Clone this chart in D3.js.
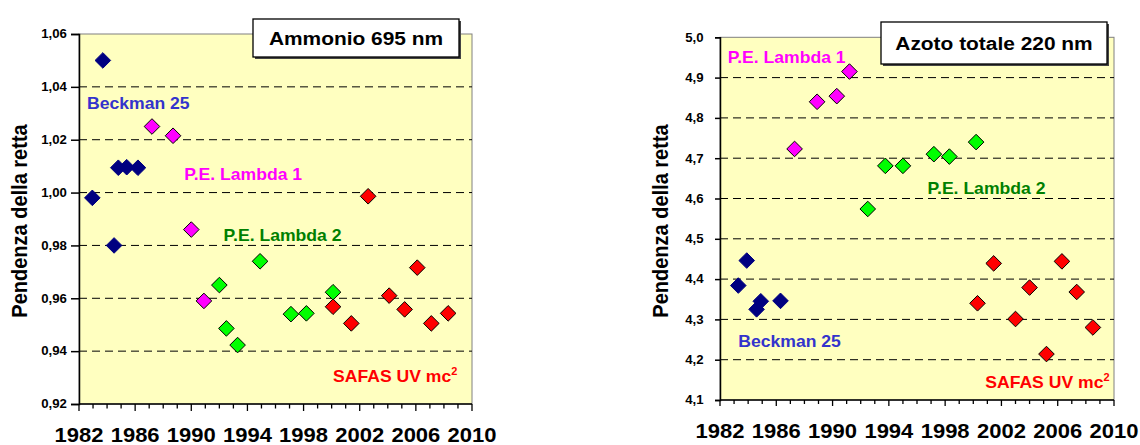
<!DOCTYPE html>
<html>
<head>
<meta charset="utf-8">
<script src="https://cdn.jsdelivr.net/npm/d3@7"></script>
<style>
  body { margin: 0; background: #fff; }
  svg text { font-family: "Liberation Sans", Arial, sans-serif; font-weight: bold; }
</style>
</head>
<body>
<svg id="chart" width="1140" height="445"></svg>
<script>
// x axis labels
var yearTicks = [1982, 1986, 1990, 1994, 1998, 2002, 2006, 2010];

// Ammonio 695 nm
var ammBeckmanYears = [1982.95, 1983.7, 1984.5, 1984.8, 1985.4, 1986.2];
var ammBeckmanVals  = [0.998, 1.050, 0.980, 1.0094, 1.0096, 1.0094];
var ammLambda1Years = [1987.2, 1988.7, 1990.0, 1990.9];
var ammLambda1Vals  = [1.025, 1.0215, 0.986, 0.959];
var ammLambda2Years = [1992.0, 1992.5, 1993.3, 1994.9, 1997.1, 1998.2, 2000.1];
var ammLambda2Vals  = [0.965, 0.9486, 0.9423, 0.974, 0.954, 0.9543, 0.9623];
var ammSafasYears   = [2000.1, 2001.4, 2002.6, 2004.1, 2005.2, 2006.1, 2007.1, 2008.3];
var ammSafasVals    = [0.9568, 0.9505, 0.9986, 0.961, 0.9558, 0.9716, 0.9505, 0.9543];
var ammTicks = [0.92, 0.94, 0.96, 0.98, 1.00, 1.02, 1.04, 1.06];

// Azoto totale 220 nm
var azoBeckmanYears = [1983.3, 1983.9, 1984.6, 1984.9, 1986.3];
var azoBeckmanVals  = [4.384, 4.446, 4.325, 4.345, 4.346];
var azoLambda1Years = [1987.3, 1988.9, 1990.3, 1991.2];
var azoLambda1Vals  = [4.723, 4.840, 4.854, 4.915];
var azoLambda2Years = [1992.5, 1993.75, 1995.0, 1997.2, 1998.3, 2000.2];
var azoLambda2Vals  = [4.574, 4.681, 4.681, 4.710, 4.704, 4.740];
var azoSafasYears   = [2000.3, 2001.45, 2003.0, 2004.0, 2005.2, 2006.3, 2007.35, 2008.5];
var azoSafasVals    = [4.340, 4.439, 4.301, 4.379, 4.214, 4.444, 4.368, 4.280];
var azoTicks = [4.1, 4.2, 4.3, 4.4, 4.5, 4.6, 4.7, 4.8, 4.9, 5.0];

var svg = d3.select("#chart");
var diamond = "M0,-7.8L7.8,0L0,7.8L-7.8,0Z";
var SX = 1.1; // the picture is a bit wider than tall

function zip(xs, ys) { return xs.map(function(x, i) { return [x, ys[i]]; }); }

function label(g, x, y, txt, color, size, sup) {
    var t = g.append("text")
        .attr("transform", "translate(" + x + "," + y + ") scale(" + SX + ",1)")
        .attr("fill", color).style("font-size", size + "px").text(txt);
    if (sup) {
        t.append("tspan").attr("dy", -7).style("font-size", "10px").text(sup);
    }
    return t;
}

function drawChart(c) {
    var x = d3.scaleLinear().domain([1982, 2010]).range([c.left, c.right]);
    var y = d3.scaleLinear().domain(c.yDomain).range([c.bottom, c.top]);
    var g = svg.append("g");

    g.append("rect").attr("x", c.left).attr("y", c.top)
        .attr("width", c.right - c.left).attr("height", c.bottom - c.top)
        .attr("fill", "#FFFFC0").attr("stroke", "#808080").attr("stroke-width", 1);

    // dashed gridlines
    g.selectAll(".grid").data(c.yTicks.slice(1, -1)).enter().append("line")
        .attr("x1", c.left).attr("x2", c.right)
        .attr("y1", function(d) { return y(d); }).attr("y2", function(d) { return y(d); })
        .attr("stroke", "#000").attr("stroke-dasharray", "8,5");

    // y axis
    var ya = g.append("g").attr("transform", "translate(" + c.left + ",0)")
        .call(d3.axisLeft(y).tickValues(c.yTicks).tickSize(c.yTickSize).tickPadding(c.yPad)
            .tickFormat(function(d) { return d3.format(c.yFmt)(d).replace(".", ","); }));
    ya.select(".domain").attr("stroke", "#000").attr("stroke-width", 1.5);
    ya.selectAll("line").attr("stroke-width", 1.5);
    ya.selectAll("text").style("font-size", "12px").attr("fill", "#000")
        .attr("transform", "scale(" + SX + ",1)");

    // x axis: yearly ticks, longer every 4 years
    var xa = g.append("g").attr("transform", "translate(0," + c.bottom + ")");
    xa.append("line").attr("x1", c.left).attr("x2", c.right).attr("stroke", "#000").attr("stroke-width", 1.5);
    xa.selectAll(".tk").data(d3.range(1982, 2011)).enter().append("line")
        .attr("x1", function(d) { return x(d); }).attr("x2", function(d) { return x(d); })
        .attr("y1", 0).attr("y2", function(d) { return (d - 1982) % 4 === 0 ? c.xMajor : c.xMinor; })
        .attr("stroke", "#000").attr("stroke-width", 1.3);
    xa.selectAll(".xl").data(yearTicks).enter().append("text")
        .attr("transform", function(d) { return "translate(" + x(d) + "," + c.xLabelDy + ") scale(" + SX + ",1)"; })
        .attr("text-anchor", "middle").style("font-size", "20px").text(function(d) { return d; });

    // axis title
    g.append("text")
        .attr("transform", "translate(" + c.titleX + "," + c.titleY + ") rotate(-90) scale(1," + SX + ")")
        .attr("text-anchor", "middle").style("font-size", "20px").text("Pendenza della retta");

    // series
    c.series.forEach(function(s) {
        g.selectAll(null).data(s.pts).enter().append("path")
            .attr("d", diamond)
            .attr("transform", function(d) { return "translate(" + x(d[0]) + "," + y(d[1]) + ")"; })
            .attr("fill", s.fill).attr("stroke", s.stroke).attr("stroke-width", 1);
    });

    // series labels
    c.labels.forEach(function(l) {
        label(g, x(l.at[0]), y(l.at[1]), l.text, l.color, 16, l.sup);
    });

    // title box
    var b = c.box;
    g.append("rect").attr("x", b.x + 2).attr("y", b.y + 2).attr("width", b.w).attr("height", b.h).attr("fill", "#444");
    g.append("rect").attr("x", b.x).attr("y", b.y).attr("width", b.w).attr("height", b.h)
        .attr("fill", "#fff").attr("stroke", "#000").attr("stroke-width", 1.3);
    g.append("text")
        .attr("transform", "translate(" + (b.x + b.w / 2) + "," + (b.y + b.h / 2 + 7) + ") scale(" + SX + ",1)")
        .attr("text-anchor", "middle").style("font-size", "19px").text(b.text);
}

var navy = "#000080", magenta = "#FF00FF", lime = "#00FF00", red = "#FF0000";

drawChart({
    left: 79, right: 472, top: 34, bottom: 404,
    yDomain: [0.92, 1.06], yTicks: ammTicks, yFmt: ".2f", yTickSize: 8, yPad: 3,
    xMajor: 7, xMinor: 4.5, xLabelDy: 38,
    titleX: 27, titleY: 221,
    series: [
        { pts: zip(ammBeckmanYears, ammBeckmanVals), fill: navy, stroke: navy },
        { pts: zip(ammLambda1Years, ammLambda1Vals), fill: magenta, stroke: "#000" },
        { pts: zip(ammLambda2Years, ammLambda2Vals), fill: lime, stroke: "#000" },
        { pts: zip(ammSafasYears, ammSafasVals), fill: red, stroke: "#000" }
    ],
    labels: [
        { text: "Beckman 25", color: "#3333CC", at: [1982.57, 1.0318] },
        { text: "P.E. Lambda 1", color: magenta, at: [1989.5, 1.0049] },
        { text: "P.E. Lambda 2", color: "#008000", at: [1992.3, 0.9815] },
        { text: "SAFAS UV mc", sup: "2", color: red, at: [2000.1, 0.9285] }
    ],
    box: { x: 253, y: 19, w: 206, h: 38, text: "Ammonio 695 nm" }
});

drawChart({
    left: 720, right: 1114, top: 37.3, bottom: 400,
    yDomain: [4.1, 5.0], yTicks: azoTicks, yFmt: ".1f", yTickSize: 5, yPad: 10,
    xMajor: 6, xMinor: 4, xLabelDy: 38,
    titleX: 668, titleY: 221,
    series: [
        { pts: zip(azoBeckmanYears, azoBeckmanVals), fill: navy, stroke: navy },
        { pts: zip(azoLambda1Years, azoLambda1Vals), fill: magenta, stroke: "#000" },
        { pts: zip(azoLambda2Years, azoLambda2Vals), fill: lime, stroke: "#000" },
        { pts: zip(azoSafasYears, azoSafasVals), fill: red, stroke: "#000" }
    ],
    labels: [
        { text: "P.E. Lambda 1", color: magenta, at: [1982.55, 4.935] },
        { text: "P.E. Lambda 2", color: "#008000", at: [1996.75, 4.612] },
        { text: "Beckman 25", color: "#3333CC", at: [1983.3, 4.231] },
        { text: "SAFAS UV mc", sup: "2", color: red, at: [2000.85, 4.130] }
    ],
    box: { x: 881, y: 22, w: 226, h: 42, text: "Azoto totale 220 nm" }
});
</script>
</body>
</html>
